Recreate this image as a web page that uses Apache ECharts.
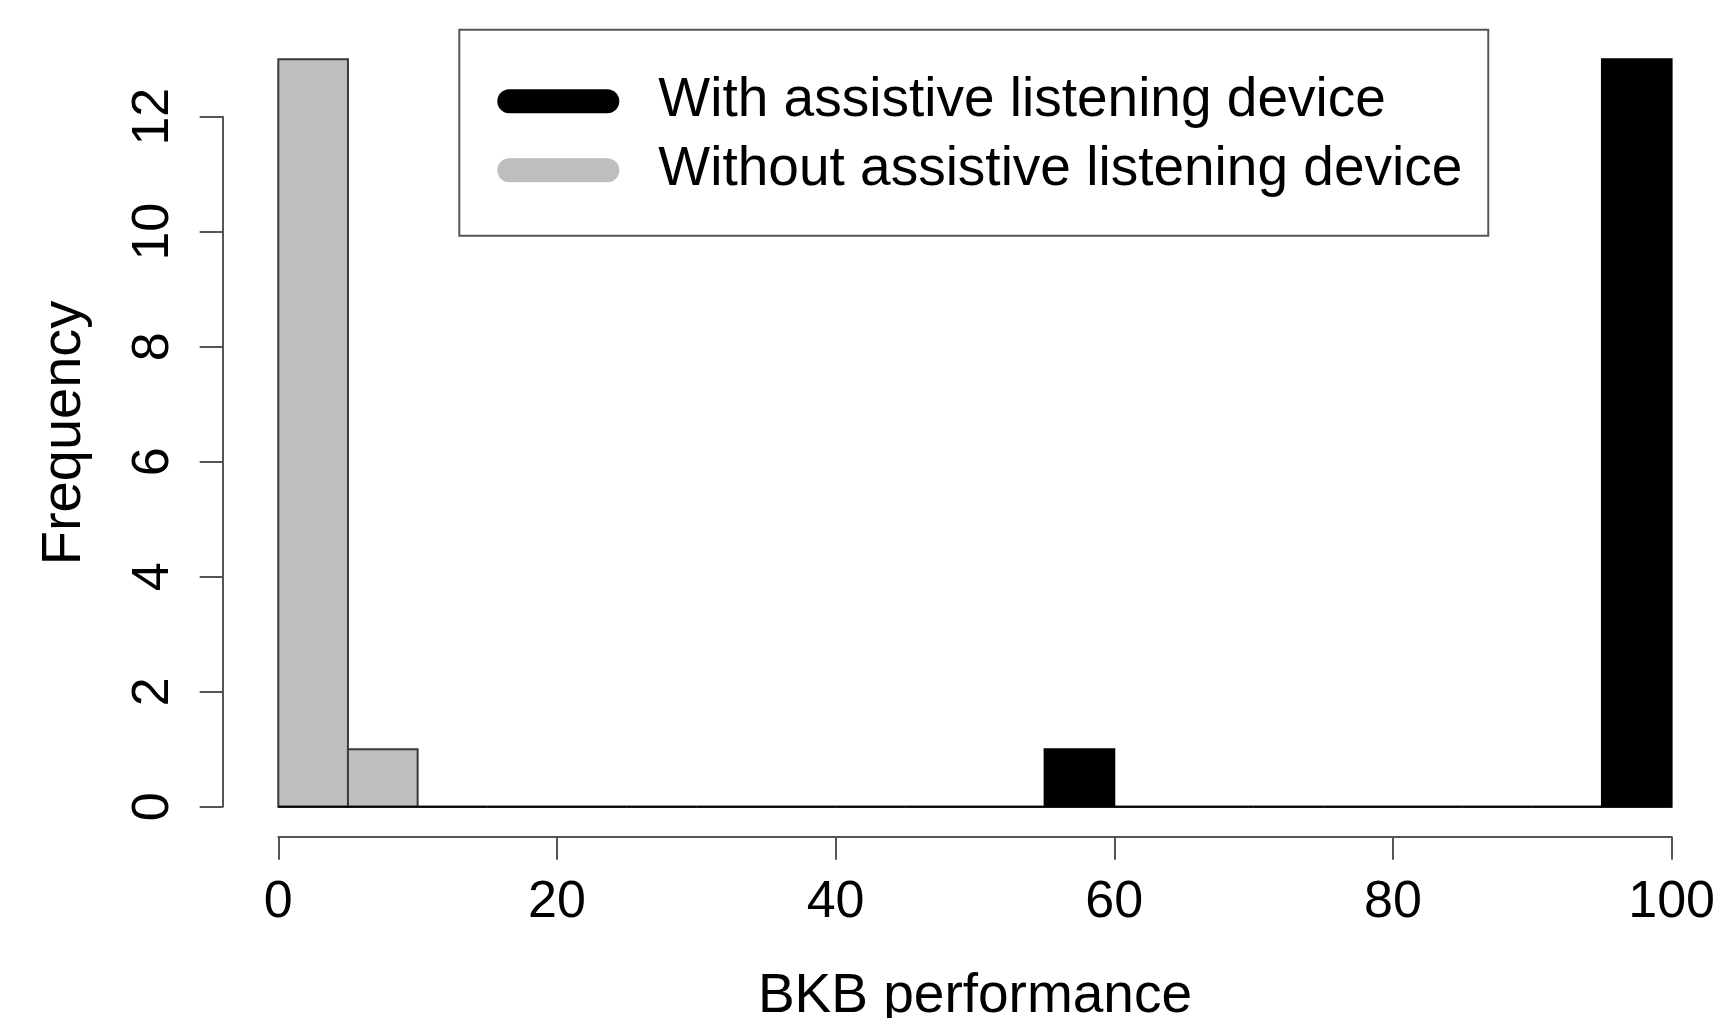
<!DOCTYPE html>
<html>
<head>
<meta charset="utf-8">
<script src="https://cdn.jsdelivr.net/npm/echarts@6/dist/echarts.min.js"></script>
<style>
html,body{margin:0;padding:0;background:#fff;}
#main{width:1727px;height:1018px;}
</style>
</head>
<body>
<div id="main"></div>
<script>
// Histogram bin edges (BKB performance)
const breaks = [0,5,10,15,20,25,30,35,40,45,50,55,60,65,70,75,80,85,90,95,100];
// Frequencies per bin
const withDevice    = [0,0,0,0,0,0,0,0,0,0,0,1,0,0,0,0,0,0,0,13];
const withoutDevice = [13,1,0,0,0,0,0,0,0,0,0,0,0,0,0,0,0,0,0,0];
const xTicks = [0,20,40,60,80,100];
const yTicks = [0,2,4,6,8,10,12];
const seriesNames = ['With assistive listening device','Without assistive listening device'];

const FONT = '"Liberation Sans", Arial, Helvetica, sans-serif';

function binData(counts){
  return counts.map((c,i)=>[breaks[i], breaks[i+1], c]);
}
function makeRender(fill, stroke){
  return function(params, api){
    const p0 = api.coord([api.value(0), 0]);
    const p1 = api.coord([api.value(1), api.value(2)]);
    return {
      type:'rect',
      shape:{x:p0[0], y:p1[1], width:p1[0]-p0[0], height:p0[1]-p1[1]},
      style:{fill:fill, stroke:stroke, lineWidth:2}
    };
  };
}

const chart = echarts.init(document.getElementById('main'), null, {renderer:'canvas'});
chart.setOption({
  backgroundColor:'#ffffff',
  animation:false,
  textStyle:{fontFamily:FONT},
  grid:[
    {left:278.3, right:55.4, top:59.2, bottom:211.3, containLabel:false, outerBoundsMode:'none'},
    {left:222.7, width:50, top:116.7, bottom:211.3, containLabel:false, outerBoundsMode:'none'}
  ],
  xAxis:[
    {
      type:'value', gridIndex:0, min:xTicks[0], max:xTicks[xTicks.length-1], interval:20,
      offset:30,
      axisLine:{show:true, onZero:false, lineStyle:{color:'#555', width:2}},
      axisTick:{show:true, length:23, inside:false, lineStyle:{color:'#555', width:2}},
      splitLine:{show:false},
      axisLabel:{show:true, fontSize:52, color:'#000', margin:40, fontFamily:FONT, showMaxLabel:true, showMinLabel:true},
      name:'BKB performance', nameLocation:'middle', nameGap:133,
      nameTextStyle:{fontSize:55, color:'#000', fontFamily:FONT}
    },
    {type:'value', gridIndex:1, min:0, max:1, show:false}
  ],
  yAxis:[
    {
      type:'value', gridIndex:0, min:0, max:13,
      axisLine:{show:false}, axisTick:{show:false}, axisLabel:{show:false}, splitLine:{show:false},
      name:'Frequency', nameLocation:'middle', nameGap:186,
      nameTextStyle:{fontSize:56, color:'#000', fontFamily:FONT}
    },
    {
      type:'value', gridIndex:1, min:yTicks[0], max:yTicks[yTicks.length-1], interval:2,
      axisLine:{show:true, lineStyle:{color:'#555', width:2}},
      axisTick:{show:true, length:23, inside:false, lineStyle:{color:'#555', width:2}},
      splitLine:{show:false},
      axisLabel:{show:true, rotate:90, fontSize:52, color:'#000', margin:43, fontFamily:FONT, showMaxLabel:true, showMinLabel:true}
    }
  ],
  legend:{
    orient:'vertical',
    left:459.3, top:29.7,
    padding:[37,26,31,38],
    borderColor:'#555', borderWidth:2,
    backgroundColor:'#fff',
    itemWidth:122, itemHeight:24, itemGap:0,
    selectedMode:false,
    icon:'path://M12,0 L110,0 A12,12 0 0 1 110,24 L12,24 A12,12 0 0 1 12,0 Z',
    itemStyle:{borderWidth:0},
    textStyle:{fontSize:55, color:'#000', fontFamily:FONT, lineHeight:56, padding:[13,0,0,34]},
    data:seriesNames
  },
  series:[
    {
      name:seriesNames[1], type:'custom', xAxisIndex:0, yAxisIndex:0, clip:false,
      itemStyle:{color:'#bebebe'},
      encode:{x:[0,1], y:2},
      renderItem:makeRender('#bebebe','#3a3a3a'),
      data:binData(withoutDevice)
    },
    {
      name:seriesNames[0], type:'custom', xAxisIndex:0, yAxisIndex:0, clip:false,
      itemStyle:{color:'#000000'},
      encode:{x:[0,1], y:2},
      renderItem:makeRender('#000000','#000000'),
      data:binData(withDevice)
    }
  ]
});
</script>
</body>
</html>
